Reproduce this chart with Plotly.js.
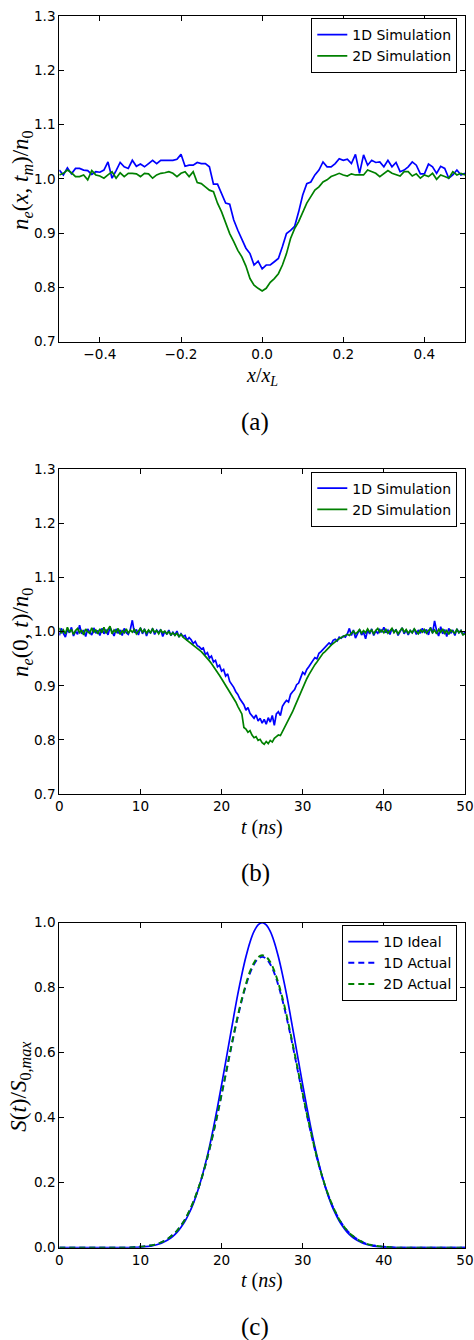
<!DOCTYPE html>
<html>
<head>
<meta charset="utf-8">
<script src="https://cdn.plot.ly/plotly-3.0.1.min.js"></script>
<style>
html,body{margin:0;padding:0;background:#fff;}
#chart{width:474px;height:1340px;}
</style>
</head>
<body>
<div id="chart"></div>
<script>
// ---------- Panel (a): density profile vs x/x_L ----------
const posA = [-0.50,-0.49,-0.48,-0.47,-0.46,-0.45,-0.44,-0.43,-0.42,-0.41,
-0.40,-0.39,-0.38,-0.37,-0.36,-0.35,-0.34,-0.33,-0.32,-0.31,
-0.30,-0.29,-0.28,-0.27,-0.26,-0.25,-0.24,-0.23,-0.22,-0.21,
-0.20,-0.19,-0.18,-0.17,-0.16,-0.15,-0.14,-0.13,-0.12,-0.11,
-0.10,-0.09,-0.08,-0.07,-0.06,-0.05,-0.04,-0.03,-0.02,-0.01,
0.00,0.01,0.02,0.03,0.04,0.05,0.06,0.07,0.08,0.09,
0.10,0.11,0.12,0.13,0.14,0.15,0.16,0.17,0.18,0.19,
0.20,0.21,0.22,0.23,0.24,0.25,0.26,0.27,0.28,0.29,
0.30,0.31,0.32,0.33,0.34,0.35,0.36,0.37,0.38,0.39,
0.40,0.41,0.42,0.43,0.44,0.45,0.46,0.47,0.48,0.49,0.50];
const sim1D_a = [1.016,1.007,1.020,1.009,1.019,1.019,1.016,1.015,1.008,1.013,
1.012,1.016,1.031,1.001,1.015,1.030,1.022,1.019,1.034,1.023,
1.027,1.022,1.028,1.034,1.028,1.034,1.034,1.034,1.034,1.036,
1.045,1.023,1.025,1.025,1.030,1.028,1.028,1.022,0.990,0.990,
0.973,0.955,0.953,0.924,0.905,0.890,0.872,0.862,0.841,0.848,
0.834,0.841,0.841,0.847,0.853,0.875,0.899,0.905,0.912,0.939,
0.970,0.991,0.994,1.007,1.016,1.031,1.022,1.022,1.028,1.037,
1.034,1.036,1.028,1.045,1.010,1.044,1.025,1.034,1.030,1.031,
1.022,1.034,1.022,1.030,1.013,1.016,1.022,1.031,1.025,1.009,
1.009,1.027,1.022,1.010,1.023,1.019,1.001,1.007,1.016,1.007,1.010];
const sim2D_a = [1.007,1.010,1.016,1.011,1.004,1.004,1.007,0.998,1.015,1.007,
1.005,1.001,1.007,1.013,1.001,1.011,1.004,1.010,1.010,1.009,
1.004,1.010,1.009,1.001,1.007,1.010,1.011,1.013,1.010,1.004,
1.010,1.013,1.004,1.013,0.993,0.991,0.985,0.979,0.976,0.955,
0.939,0.918,0.899,0.884,0.868,0.856,0.839,0.816,0.804,0.798,
0.793,0.798,0.809,0.816,0.825,0.841,0.862,0.890,0.908,0.921,
0.939,0.955,0.967,0.979,0.985,0.994,0.998,1.004,1.007,1.010,
1.007,1.005,1.009,1.007,1.007,1.007,1.016,1.013,1.010,1.004,
1.010,1.015,1.010,1.007,1.005,1.013,1.013,1.005,1.009,1.001,
1.007,1.004,1.010,0.999,1.007,1.004,1.001,1.013,1.007,1.010,1.007];

// ---------- Panel (b): density at x=0 vs time ----------
const timeB = [0,0.25,0.5,0.75,1,1.25,1.5,1.75,2,2.25,2.5,2.75,3,3.25,3.5,3.75,4,4.25,4.5,4.75,5,
5.25,5.5,5.75,6,6.25,6.5,6.75,7,7.25,7.5,7.75,8,8.25,8.5,8.75,9,9.25,9.5,9.75,10,
10.25,10.5,10.75,11,11.25,11.5,11.75,12,12.25,12.5,12.75,13,13.25,13.5,13.75,14,14.25,14.5,14.75,15,
15.25,15.5,15.75,16,16.25,16.5,16.75,17,17.25,17.5,17.75,18,18.25,18.5,18.75,19,19.25,19.5,19.75,20,
20.25,20.5,20.75,21,21.25,21.5,21.75,22,22.25,22.5,22.75,23,23.25,23.5,23.75,24,24.25,24.5,24.75,25,
25.25,25.5,25.75,26,26.25,26.5,26.75,27,27.25,27.5,27.75,28,28.25,28.5,28.75,29,29.25,29.5,29.75,30,
30.25,30.5,30.75,31,31.25,31.5,31.75,32,32.25,32.5,32.75,33,33.25,33.5,33.75,34,34.25,34.5,34.75,35,
35.25,35.5,35.75,36,36.25,36.5,36.75,37,37.25,37.5,37.75,38,38.25,38.5,38.75,39,39.25,39.5,39.75,40,
40.25,40.5,40.75,41,41.25,41.5,41.75,42,42.25,42.5,42.75,43,43.25,43.5,43.75,44,44.25,44.5,44.75,45,
45.25,45.5,45.75,46,46.25,46.5,46.75,47,47.25,47.5,47.75,48,48.25,48.5,48.75,49,49.25,49.5,49.75,50];
const sim1D_b = [0.993,1.006,0.997,0.990,1.004,0.998,1.008,0.992,1.001,0.995,1.012,0.996,1.003,0.991,1.005,0.999,0.994,1.007,0.997,1.002,0.993,
1.006,0.996,1.004,0.994,1.008,0.999,0.992,1.005,0.997,1.003,0.993,1.006,0.998,0.995,1.004,1.021,0.998,1.004,0.994,1.007,
0.996,1.005,0.992,1.002,0.997,1.006,0.995,1.003,0.998,1.004,0.991,1.001,0.995,1.003,0.993,0.999,0.994,1.001,0.990,0.996,
0.991,0.993,0.984,0.989,0.985,0.978,0.982,0.974,0.972,0.968,0.970,0.958,0.961,0.951,0.955,0.944,0.947,0.935,0.938,0.927,
0.930,0.918,0.922,0.908,0.903,0.897,0.889,0.884,0.876,0.870,0.865,0.855,0.860,0.849,0.845,0.840,0.846,0.835,0.840,0.831,
0.838,0.829,0.841,0.833,0.845,0.827,0.848,0.852,0.845,0.862,0.868,0.873,0.870,0.884,0.889,0.893,0.902,0.905,0.915,0.925,
0.921,0.930,0.935,0.940,0.946,0.952,0.950,0.960,0.963,0.967,0.972,0.975,0.979,0.976,0.984,0.986,0.983,0.990,0.988,0.992,
0.990,0.996,1.006,0.993,1.003,0.988,0.997,1.004,0.994,0.999,0.987,1.003,0.996,1.005,0.993,1.001,0.997,1.004,0.999,1.008,
0.998,1.003,0.995,1.006,0.999,1.004,0.993,1.001,1.007,0.996,1.003,0.994,1.002,0.998,1.005,0.995,1.003,0.997,1.006,0.999,
1.004,0.994,1.008,0.997,1.020,1.002,0.992,1.009,0.996,1.004,0.991,1.006,0.997,1.003,0.993,1.005,0.998,1.002,0.994,1.000];
const sim2D_b = [1.007,0.997,1.003,0.996,1.008,0.999,1.004,0.995,1.002,1.006,0.998,1.003,0.994,1.005,1.000,0.997,1.007,0.999,1.003,0.996,1.005,
0.998,1.008,0.997,1.004,1.010,0.996,1.003,0.999,1.006,0.995,1.002,0.998,1.005,0.997,1.003,0.999,1.004,0.996,1.002,1.006,
0.999,1.004,0.997,1.003,0.998,1.005,0.999,1.002,0.996,1.003,0.998,1.001,0.996,1.000,0.994,0.998,0.993,0.997,0.991,0.995,
0.990,0.987,0.984,0.982,0.979,0.976,0.973,0.970,0.966,0.963,0.959,0.955,0.950,0.946,0.941,0.936,0.930,0.925,0.919,0.913,
0.907,0.902,0.895,0.889,0.883,0.877,0.870,0.862,0.855,0.848,0.823,0.820,0.814,0.817,0.809,0.804,0.806,0.799,0.801,0.795,
0.792,0.797,0.793,0.799,0.796,0.803,0.806,0.809,0.808,0.815,0.822,0.829,0.836,0.843,0.852,0.861,0.870,0.880,0.889,0.898,
0.906,0.913,0.920,0.927,0.933,0.939,0.944,0.950,0.955,0.960,0.963,0.968,0.971,0.975,0.978,0.982,0.984,0.987,0.989,0.991,
0.993,0.995,0.993,0.997,1.001,0.996,0.999,1.004,0.997,1.002,0.998,1.005,0.999,1.003,0.996,1.002,1.006,0.999,1.003,0.998,
1.004,0.997,1.002,1.006,0.998,1.003,0.996,1.002,1.007,0.999,1.004,0.997,1.002,0.998,1.005,1.000,0.996,1.003,0.999,1.004,
0.997,1.002,1.006,0.998,1.003,0.996,1.004,0.999,1.005,0.997,1.002,0.995,1.003,1.000,0.997,1.004,0.998,1.002,0.994,0.996];

// ---------- Panel (c): signal S(t)/S0,max ----------
const timeC = [0,0.5,1,1.5,2,2.5,3,3.5,4,4.5,5,5.5,6,6.5,7,7.5,8,8.5,9,9.5,
10,10.5,11,11.5,12,12.5,13,13.5,14,14.5,15,15.5,16,16.5,17,17.5,18,18.5,19,19.5,
20,20.5,21,21.5,22,22.5,23,23.5,24,24.5,25,25.5,26,26.5,27,27.5,28,28.5,29,29.5,
30,30.5,31,31.5,32,32.5,33,33.5,34,34.5,35,35.5,36,36.5,37,37.5,38,38.5,39,39.5,
40,40.5,41,41.5,42,42.5,43,43.5,44,44.5,45,45.5,46,46.5,47,47.5,48,48.5,49,49.5,50];
const ideal1D = [0,0,0,0,0,0,0,0,0,0,0,0,0,0,0,0,0,0,
0.001,0.001,0.002,0.003,0.004,0.006,0.009,0.013,0.019,0.026,0.035,0.047,0.063,0.082,0.106,0.135,0.170,0.211,
0.258,0.310,0.369,0.433,0.501,0.571,0.642,0.712,0.780,0.841,0.895,0.940,0.973,0.993,
1.000,
0.993,0.973,0.940,0.895,0.841,0.780,0.712,0.642,0.571,0.501,0.433,0.369,0.310,0.258,
0.211,0.170,0.135,0.106,0.082,0.063,0.047,0.035,0.026,0.019,0.013,0.009,0.006,0.004,0.003,0.002,0.001,0.001,
0,0,0,0,0,0,0,0,0,0,0,0,0,0,0,0,0,0];
const actual1D = [0,0,0,0,0,0,0,0,0,0,0,0,0,0,0,0,0,0,
0.001,0.002,0.003,0.004,0.006,0.008,0.011,0.016,0.022,0.030,0.040,0.052,0.068,0.087,0.111,0.139,0.172,0.210,
0.253,0.301,0.354,0.410,0.470,0.531,0.593,0.653,0.710,0.762,0.807,0.845,0.872,0.889,
0.895,
0.889,0.872,0.845,0.807,0.762,0.710,0.653,0.593,0.531,0.470,0.410,0.354,0.301,0.253,
0.210,0.172,0.139,0.111,0.087,0.068,0.052,0.040,0.030,0.022,0.016,0.011,0.008,0.006,0.004,0.003,0.002,0.001,
0,0,0,0,0,0,0,0,0,0,0,0,0,0,0,0,0,0];
const actual2D = [0,0,0,0,0,0,0,0,0,0,0,0,0,0,0,0,0,0,
0.001,0.002,0.003,0.004,0.006,0.008,0.011,0.016,0.022,0.030,0.040,0.052,0.068,0.087,0.112,0.140,0.173,0.211,
0.254,0.303,0.356,0.412,0.473,0.534,0.596,0.657,0.714,0.766,0.811,0.850,0.877,0.894,
0.900,
0.895,0.879,0.852,0.814,0.769,0.717,0.659,0.598,0.535,0.474,0.413,0.357,0.303,0.254,
0.211,0.173,0.140,0.112,0.087,0.068,0.052,0.040,0.030,0.022,0.016,0.011,0.008,0.006,0.004,0.003,0.002,0.001,
0,0,0,0,0,0,0,0,0,0,0,0,0,0,0,0,0,0];

// ---------- Tick labels / text ----------
const ticksA = [-0.4,-0.2,0.0,0.2,0.4];
const ticksT = [0,10,20,30,40,50];
const ticksYab = [0.7,0.8,0.9,1.0,1.1,1.2,1.3];
const ticksYc = [0.0,0.2,0.4,0.6,0.8,1.0];
const namesSim = ['1D Simulation','2D Simulation'];
const namesSig = ['1D Ideal','1D Actual','2D Actual'];

const BLUE = '#0000ff', GREEN = '#008000';
const W = 474, H = 1340;
const px = v => v / W, py = v => 1 - v / H;

const traces = [
  {x: posA, y: sim1D_a, name: namesSim[0], type: 'scatter', mode: 'lines', line: {color: BLUE, width: 1.7}, xaxis: 'x', yaxis: 'y', legend: 'legend'},
  {x: posA, y: sim2D_a, name: namesSim[1], type: 'scatter', mode: 'lines', line: {color: GREEN, width: 1.7}, xaxis: 'x', yaxis: 'y', legend: 'legend'},
  {x: timeB, y: sim1D_b, name: namesSim[0], type: 'scatter', mode: 'lines', line: {color: BLUE, width: 1.7}, xaxis: 'x2', yaxis: 'y2', legend: 'legend2'},
  {x: timeB, y: sim2D_b, name: namesSim[1], type: 'scatter', mode: 'lines', line: {color: GREEN, width: 1.7}, xaxis: 'x2', yaxis: 'y2', legend: 'legend2'},
  {x: timeC, y: ideal1D, name: namesSig[0], type: 'scatter', mode: 'lines', line: {color: BLUE, width: 1.7, shape: 'spline'}, xaxis: 'x3', yaxis: 'y3', legend: 'legend3'},
  {x: timeC, y: actual1D, name: namesSig[1], type: 'scatter', mode: 'lines', line: {color: BLUE, width: 1.9, dash: '6px,4px', shape: 'spline'}, xaxis: 'x3', yaxis: 'y3', legend: 'legend3'},
  {x: timeC, y: actual2D, name: namesSig[2], type: 'scatter', mode: 'lines', line: {color: GREEN, width: 1.9, dash: '6px,4px', shape: 'spline'}, xaxis: 'x3', yaxis: 'y3', legend: 'legend3'}
];

const tickFont = {family: 'DejaVu Sans', size: 13.6, color: '#000'};
function xax(domainAnchor, range, tickvals, fmt) {
  return {domain: [px(59.3), px(465)], anchor: domainAnchor, range: range, tickvals: tickvals, tickformat: fmt,
    showline: true, linecolor: '#000', linewidth: 1, mirror: 'ticks', ticks: 'inside', ticklen: 5, tickcolor: '#000',
    showgrid: false, zeroline: false, tickfont: tickFont, fixedrange: true};
}
function yax(domainAnchor, dom, range, tickvals) {
  return {domain: dom, anchor: domainAnchor, range: range, tickvals: tickvals, tickformat: '.1f',
    showline: true, linecolor: '#000', linewidth: 1, mirror: 'ticks', ticks: 'inside', ticklen: 5, tickcolor: '#000',
    showgrid: false, zeroline: false, tickfont: tickFont, fixedrange: true};
}
const legFont = {family: 'DejaVu Sans', size: 14, color: '#000'};
function leg(xr, yt) {
  return {x: px(xr), y: py(yt), xanchor: 'right', yanchor: 'top', bgcolor: '#fff', bordercolor: '#000', borderwidth: 1,
    font: legFont, tracegroupgap: 0, itemwidth: 30};
}
const mathFont = {family: 'Liberation Serif', size: 20, color: '#000'};
const mathFontY = {family: 'Liberation Serif', size: 23, color: '#000'};
const capFont = {family: 'Liberation Serif', size: 25, color: '#000'};

const annotations = [
  // axis titles panel (a)
  {text: '<i>x</i>/<i>x</i><sub><i>L</i></sub>', x: px(262), y: py(376), xref: 'paper', yref: 'paper', showarrow: false, font: mathFont, xanchor: 'center', yanchor: 'middle'},
  {text: '<i>n</i><sub><i>e</i></sub>(<i>x</i>, <i>t</i><sub><i>m</i></sub>)/<i>n</i><sub>0</sub>', x: px(22), y: py(180), xref: 'paper', yref: 'paper', showarrow: false, font: mathFontY, textangle: -90, xanchor: 'center', yanchor: 'middle'},
  {text: '(a)', x: px(255), y: py(421.7), xref: 'paper', yref: 'paper', showarrow: false, font: capFont, xanchor: 'center', yanchor: 'middle'},
  // panel (b)
  {text: '<i>t</i> (<i>ns</i>)', x: px(262), y: py(827), xref: 'paper', yref: 'paper', showarrow: false, font: mathFont, xanchor: 'center', yanchor: 'middle'},
  {text: '<i>n</i><sub><i>e</i></sub>(0, <i>t</i>)/<i>n</i><sub>0</sub>', x: px(22), y: py(633), xref: 'paper', yref: 'paper', showarrow: false, font: mathFontY, textangle: -90, xanchor: 'center', yanchor: 'middle'},
  {text: '(b)', x: px(255), y: py(873), xref: 'paper', yref: 'paper', showarrow: false, font: capFont, xanchor: 'center', yanchor: 'middle'},
  // panel (c)
  {text: '<i>t</i> (<i>ns</i>)', x: px(262), y: py(1280), xref: 'paper', yref: 'paper', showarrow: false, font: mathFont, xanchor: 'center', yanchor: 'middle'},
  {text: '<i>S</i>(<i>t</i>)/<i>S</i><sub>0,<i>max</i></sub>', x: px(20), y: py(1086.7), xref: 'paper', yref: 'paper', showarrow: false, font: mathFontY, textangle: -90, xanchor: 'center', yanchor: 'middle'},
  {text: '(c)', x: px(255), y: py(1326.7), xref: 'paper', yref: 'paper', showarrow: false, font: capFont, xanchor: 'center', yanchor: 'middle'}
];

const layout = {
  width: W, height: H, autosize: false,
  margin: {l: 0, r: 0, t: 0, b: 0},
  paper_bgcolor: '#fff', plot_bgcolor: '#fff',
  showlegend: true,
  xaxis: xax('y', [-0.5, 0.5], ticksA, '.1f'),
  yaxis: yax('x', [py(341.5), py(16)], [0.7, 1.3], ticksYab),
  xaxis2: xax('y2', [0, 50], ticksT, 'd'),
  yaxis2: yax('x2', [py(794), py(469.3)], [0.7, 1.3], ticksYab),
  xaxis3: xax('y3', [0, 50], ticksT, 'd'),
  yaxis3: yax('x3', [py(1247.7), py(922.7)], [0, 1.0], ticksYc),
  legend: leg(457.3, 18),
  legend2: leg(457.3, 471.5),
  legend3: leg(457.3, 925),
  annotations: annotations
};

Plotly.newPlot('chart', traces, layout, {staticPlot: true, displayModeBar: false});
</script>
</body>
</html>
